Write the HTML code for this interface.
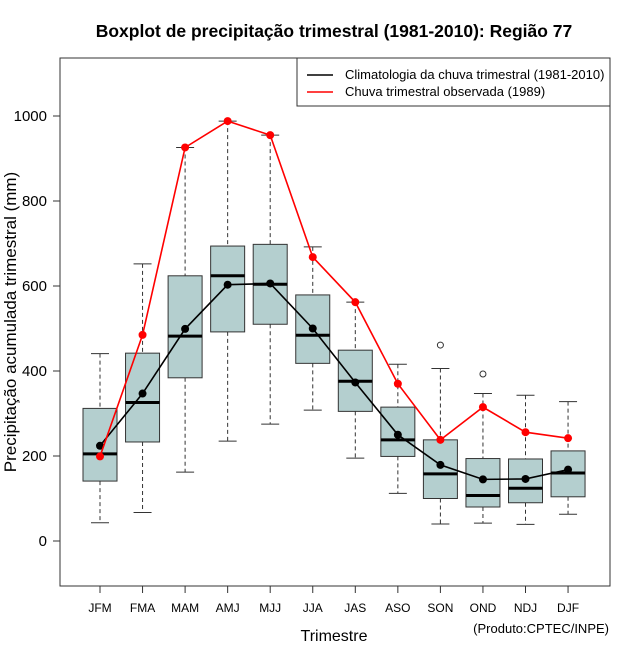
<!DOCTYPE html>
<html><head><meta charset="utf-8"><style>
body{margin:0;background:#fff;}
svg text{font-family:"Liberation Sans",sans-serif;}
</style></head><body>
<svg id="chart" width="640" height="660" xmlns="http://www.w3.org/2000/svg">
<text x="334" y="37" text-anchor="middle" font-size="17.5" font-weight="bold">Boxplot de precipitação trimestral (1981-2010): Região 77</text>
<rect x="60" y="58" width="550" height="528" fill="none" stroke="#333" stroke-width="1"/>
<g id="boxes"></g>
<g id="lines"></g>
<g id="axes"></g>
<text x="334" y="641" text-anchor="middle" font-size="16">Trimestre</text>
<text x="16" y="322" text-anchor="middle" font-size="17" transform="rotate(-90 16 322)">Precipitação acumulada trimestral (mm)</text>
<text x="609" y="633" text-anchor="end" font-size="13">(Produto:CPTEC/INPE)</text>
<g>
<rect x="297" y="58" width="313" height="48" fill="#fff" stroke="#333"/>
<line x1="307" y1="75" x2="333" y2="75" stroke="#000" stroke-width="1.5"/>
<text x="345" y="79" font-size="13">Climatologia da chuva trimestral (1981-2010)</text>
<line x1="307" y1="92" x2="333" y2="92" stroke="#f00" stroke-width="1.5"/>
<text x="345" y="96" font-size="13">Chuva trimestral observada (1989)</text>
</g>
</svg>
<script>
const categories=["JFM","FMA","MAM","AMJ","MJJ","JJA","JAS","ASO","SON","OND","NDJ","DJF"];
const whiskerLow=[43,67,162,235,275,308,195,112,40,42,39,63];
const q1=[141,233,384,492,510,418,305,199,100,80,90,104];
const median=[205,326,482,624,604,484,376,238,158,107,124,160];
const q3=[312,442,624,694,698,579,449,315,238,194,193,212];
const whiskerHigh=[441,652,926,988,955,692,562,416,406,347,343,328];
const outliers=[[],[],[],[],[],[],[],[],[461],[393],[],[]];
const climMean=[224,347,499,603,606,500,373,250,179,145,146,168];
const observed=[199,485,926,988,955,668,562,370,238,315,256,242];
const yTicks=[0,200,400,600,800,1000];

const NS="http://www.w3.org/2000/svg";
const y=v=>541-v*0.425;
const x=i=>100+i*42.55;
function mk(tag,attrs,parent){const e=document.createElementNS(NS,tag);for(const k in attrs)e.setAttribute(k,attrs[k]);parent.appendChild(e);return e;}
const gb=document.getElementById('boxes'),gl=document.getElementById('lines'),ga=document.getElementById('axes');
categories.forEach((c,i)=>{
  const cx=x(i);
  const g=mk('g',{},gb);
  
  
  mk('line',{x1:cx,y1:y(whiskerHigh[i]),x2:cx,y2:y(q3[i]),stroke:'#333','stroke-dasharray':'4,3'},g);
  mk('line',{x1:cx,y1:y(q1[i]),x2:cx,y2:y(whiskerLow[i]),stroke:'#333','stroke-dasharray':'4,3'},g);
  mk('line',{x1:cx-9,y1:y(whiskerHigh[i]),x2:cx+9,y2:y(whiskerHigh[i]),stroke:'#333'},g);
  mk('line',{x1:cx-9,y1:y(whiskerLow[i]),x2:cx+9,y2:y(whiskerLow[i]),stroke:'#333'},g);
  mk('rect',{x:cx-17,y:y(q3[i]),width:34,height:y(q1[i])-y(q3[i]),fill:'#b4cfcf',stroke:'#333'},g);
  mk('line',{x1:cx-17,y1:y(median[i]),x2:cx+17,y2:y(median[i]),stroke:'#000','stroke-width':3},g);
  outliers[i].forEach(o=>mk('circle',{cx:cx,cy:y(o),r:3,fill:'none',stroke:'#333'},g));
  const t=mk('text',{x:cx,y:612,'text-anchor':'middle','font-size':12},ga);t.textContent=c;
  
  
  mk('line',{x1:cx,y1:586,x2:cx,y2:593,stroke:'#333'},ga);
});
yTicks.forEach(v=>{
  mk('line',{x1:53,y1:y(v),x2:60,y2:y(v),stroke:'#333'},ga);
  const t=mk('text',{x:47,y:y(v)+5,'text-anchor':'end','font-size':15},ga);t.textContent=v;
  
  
});
function series(vals,color,name){
  const g=mk('g',{},gl);
  
  
  mk('polyline',{points:vals.map((v,i)=>x(i)+','+y(v)).join(' '),fill:'none',stroke:color,'stroke-width':1.6},g);
  vals.forEach((v,i)=>mk('circle',{cx:x(i),cy:y(v),r:4,fill:color},g));
}
series(climMean,'#000','climatology-series');
series(observed,'#f00','observed-series');
</script>
</body></html>
